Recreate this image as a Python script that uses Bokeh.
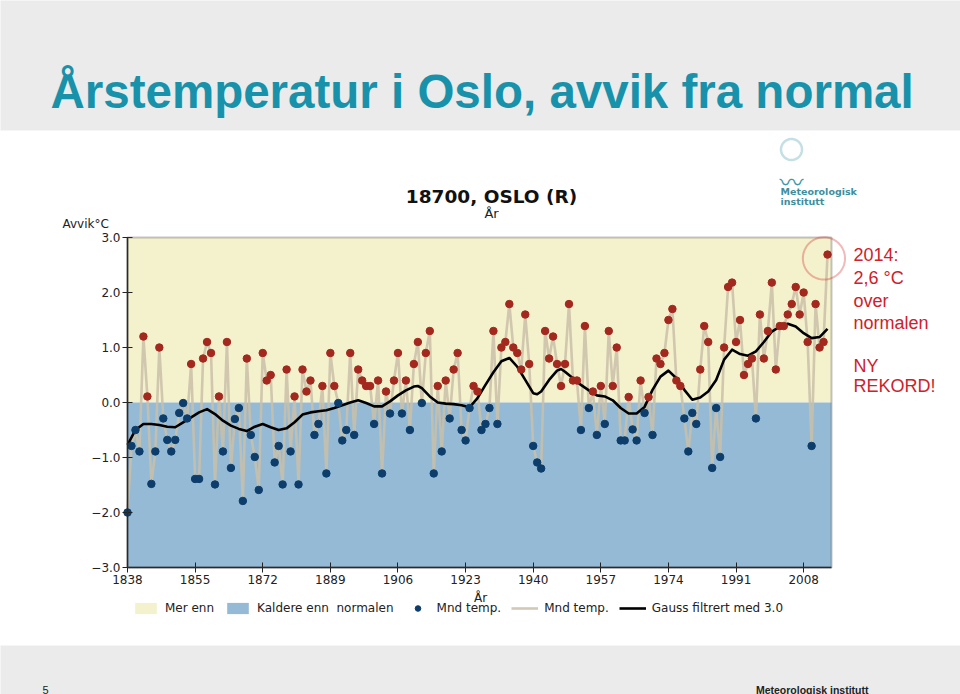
import numpy as np
from bokeh.plotting import figure
from bokeh.models import (Range1d, FixedTicker, Label, Legend, LegendItem,
                          BoxAnnotation, PolyAnnotation)
from bokeh.embed import file_html
from bokeh.resources import INLINE

# ---------------- data ----------------
first_year = 1838
annual_anomaly = [
    -2.0, -0.79, -0.5, -0.89, 1.2, 0.11, -1.48, -0.89, 1.0, -0.29,      # 1838-1847
    -0.68, -0.89, -0.68, -0.19, -0.01, -0.29, 0.7, -1.39, -1.39, 0.8,   # 1848-1857
    1.1, 0.9, -1.49, 0.11, -0.89, 1.1, -1.19, -0.3, -0.1, -1.79,        # 1858-1867
    0.8, -0.59, -0.99, -1.59, 0.9, 0.4, 0.5, -1.09, -0.79, -1.49,       # 1868-1877
    0.6, -0.89, 0.11, -1.49, 0.6, 0.2, 0.4, -0.59, -0.39, 0.3,          # 1878-1887
    -1.29, 0.9, 0.3, -0.01, -0.69, -0.5, 0.9, -0.59, 0.6, 0.4,          # 1888-1897
    0.3, 0.3, -0.39, 0.4, -1.29, 0.2, -0.2, 0.4, 0.9, -0.2,             # 1898-1907
    0.4, -0.5, 0.7, 1.1, -0.01, 0.9, 1.3, -1.29, 0.3, -0.89,            # 1908-1917
    0.4, -0.29, 0.6, 0.9, -0.5, -0.69, -0.1, 0.3, 0.2, -0.5,            # 1918-1927
    -0.39, -0.1, 1.3, -0.39, 1.0, 1.1, 1.79, 1.0, 0.9, 0.6,             # 1928-1937
    1.6, 0.7, -0.79, -1.09, -1.2, 1.3, 0.8, 1.2, 0.7, 0.3,              # 1938-1947
    0.7, 1.79, 0.4, 0.4, -0.5, 1.39, -0.1, 0.2, -0.59, 0.3,             # 1948-1957
    -0.39, 1.3, 0.3, 1.0, -0.69, -0.69, 0.1, -0.49, -0.69, 0.4,         # 1958-1967
    -0.19, 0.1, -0.59, 0.8, 0.7, 0.9, 1.5, 1.7, 0.4, 0.3,               # 1968-1977
    -0.29, -0.89, -0.19, -0.39, 0.6, 1.39, 1.1, -1.19, -0.1, -0.99,     # 1978-1987
    1.0, 2.1, 2.18, 1.1, 1.5, 0.5, 0.7, 0.8, -0.29, 1.6,                # 1988-1997
    0.8, 1.3, 2.18, 0.6, 1.39, 1.39, 1.6, 1.79, 2.1, 1.6,               # 1998-2007
    2.0, 1.1, -0.79, 1.79, 1.0, 1.1, 2.69,                              # 2008-2014
]
years = list(range(first_year, first_year + len(annual_anomaly)))

gauss_years = [1838, 1840, 1842, 1844, 1846, 1848, 1850, 1852, 1854, 1856,
               1858, 1860, 1862, 1864, 1866, 1868, 1870, 1872, 1874, 1876,
               1878, 1880, 1882, 1884, 1886, 1888, 1890, 1892, 1894, 1896,
               1898, 1900, 1902, 1904, 1906, 1908, 1910, 1911, 1912, 1914,
               1916, 1918, 1920, 1922, 1923, 1924, 1926, 1928, 1930, 1932,
               1934, 1936, 1938, 1940, 1941, 1942, 1944, 1946, 1947, 1948,
               1950, 1952, 1954, 1956, 1958, 1960, 1962, 1964, 1966, 1968,
               1970, 1972, 1974, 1976, 1978, 1980, 1982, 1984, 1986, 1988,
               1990, 1992, 1994, 1996, 1998, 2000, 2002, 2004, 2006, 2008,
               2010, 2012, 2014]
gauss_vals = [-0.77, -0.50, -0.39, -0.39, -0.41, -0.44, -0.45, -0.36, -0.27, -0.18,
              -0.12, -0.21, -0.33, -0.42, -0.48, -0.52, -0.44, -0.39, -0.45, -0.50,
              -0.47, -0.36, -0.22, -0.18, -0.16, -0.14, -0.10, -0.05, 0.00, 0.04,
              -0.01, -0.07, -0.07, 0.02, 0.13, 0.22, 0.29, 0.30, 0.26, 0.11,
              0.00, -0.02, -0.03, -0.05, -0.07, -0.09, 0.08, 0.32, 0.55, 0.75,
              0.81, 0.65, 0.41, 0.17, 0.15, 0.20, 0.41, 0.58, 0.61, 0.56,
              0.44, 0.32, 0.22, 0.13, 0.11, 0.04, -0.10, -0.20, -0.20, -0.08,
              0.23, 0.47, 0.58, 0.44, 0.23, 0.05, 0.09, 0.20, 0.41, 0.78,
              0.96, 0.88, 0.85, 0.93, 1.10, 1.29, 1.38, 1.43, 1.38, 1.26,
              1.17, 1.19, 1.34]

x_ticks = [1838, 1855, 1872, 1889, 1906, 1923, 1940, 1957, 1974, 1991, 2008]
y_ticks = [-3, -2, -1, 0, 1, 2, 3]
y_tick_labels = ["\u22123.0", "\u22122.0", "\u22121.0", "0.0", "1.0", "2.0", "3.0"]
x_start, x_end = 1838, 2015
y_min, y_max = -3.0, 3.0

# ---------------- styling / layout ----------------
SLIDE_GRAY = "#ebebeb"
TEAL = "#1892aa"
YELLOW_BG = "#f4f1cd"
BLUE_BG = "#95bad5"
RED_DOT = "#a3281e"
BLUE_DOT = "#0d3d6b"
GRAY_LINE = "#c9bfa8"
ANNOT_RED = "#d0202a"
AX = "#222222"

W, H = 960, 694
# chart box in page pixels (left, top, right, bottom)
BL, BT, BR, BB = 127, 237, 831, 567
ppx = (BR - BL) / (x_end - x_start)
ppy = (BB - BT) / (y_max - y_min)
xr = Range1d(x_start - BL / ppx, x_end + (W - BR) / ppx)
yr = Range1d(y_min - (H - BB) / ppy, y_max + BT / ppy)


def sx(X):   # page x -> screen x
    return X


def sy(Y):   # page y -> screen y (upwards from bottom)
    return H - Y


p = figure(width=W, height=H, x_range=xr, y_range=yr,
           output_backend="svg", toolbar_location=None,
           min_border=0, min_border_left=0, min_border_right=0,
           min_border_top=0, min_border_bottom=0)
p.border_fill_color = "white"
p.background_fill_color = "white"
p.outline_line_color = None
p.xgrid.visible = False
p.ygrid.visible = False

# slide bands
p.add_layout(BoxAnnotation(left=-10, right=W + 10, bottom=sy(130), top=H + 10,
                           left_units="screen", right_units="screen",
                           bottom_units="screen", top_units="screen",
                           fill_color=SLIDE_GRAY, fill_alpha=1, line_alpha=0,
                           level="underlay"))
p.add_layout(BoxAnnotation(left=-10, right=W + 10, bottom=-10, top=sy(645),
                           left_units="screen", right_units="screen",
                           bottom_units="screen", top_units="screen",
                           fill_color=SLIDE_GRAY, fill_alpha=1, line_alpha=0,
                           level="underlay"))

# background zones
warm = p.quad(left=[x_start], right=[x_end], bottom=[0], top=[y_max],
              fill_color=YELLOW_BG, line_color=None)
cold = p.quad(left=[x_start], right=[x_end], bottom=[y_min], top=[0],
              fill_color=BLUE_BG, line_color=None)

# series
gray = p.line(years, annual_anomaly, line_color=GRAY_LINE, line_width=2.6, line_alpha=0.85)
gauss = p.line(gauss_years, gauss_vals, line_color="black", line_width=2.6,
               line_join="round")
pos_x = [y for y, v in zip(years, annual_anomaly) if v >= 0]
pos_v = [v for v in annual_anomaly if v >= 0]
neg_x = [y for y, v in zip(years, annual_anomaly) if v < 0]
neg_v = [v for v in annual_anomaly if v < 0]
red_pts = p.scatter(pos_x, pos_v, size=7.5, fill_color=RED_DOT, line_color=RED_DOT)
blue_pts = p.scatter(neg_x, neg_v, size=7.5, fill_color=BLUE_DOT, line_color=BLUE_DOT)

# chart frame lines
p.add_layout(BoxAnnotation(left=x_start, right=x_end, bottom=y_min, top=y_max,
                           fill_alpha=0, line_color="#404040", line_width=2))

# axes, pinned to the chart box
TICK_FONT = "DejaVu Sans"
for ax in (p.xaxis[0], p.yaxis[0]):
    ax.axis_line_color = AX
    ax.axis_line_width = 1.5
    ax.major_tick_line_color = AX
    ax.major_tick_in = 5
    ax.major_tick_out = 5
    ax.minor_tick_line_color = None
    ax.major_label_text_font = TICK_FONT
    ax.major_label_text_font_size = "12px"
    ax.major_label_text_color = AX
    ax.major_label_standoff = 2
p.xaxis.fixed_location = y_min
p.yaxis.fixed_location = x_start
p.xaxis.bounds = (x_start, x_end)
p.yaxis.bounds = (y_min, y_max)
p.xaxis.ticker = FixedTicker(ticks=x_ticks)
p.yaxis.ticker = FixedTicker(ticks=y_ticks)
p.yaxis.major_label_overrides = {t: s for t, s in zip(y_ticks, y_tick_labels)}

# legend (location = bottom-left corner)
legend = Legend(items=[
    LegendItem(label="Mer enn", renderers=[warm]),
    LegendItem(label="Kaldere enn  normalen", renderers=[cold]),
    LegendItem(label="Mnd temp.", renderers=[blue_pts]),
    LegendItem(label="Mnd temp.", renderers=[gray]),
    LegendItem(label="Gauss filtrert med 3.0", renderers=[gauss]),
], orientation="horizontal", location=(sx(132), sy(615)))
legend.glyph_width = 27
legend.glyph_height = 14
legend.label_standoff = 6
legend.spacing = 10
legend.padding = 0
legend.margin = 0
legend.border_line_alpha = 0
legend.background_fill_alpha = 0
legend.label_text_font = TICK_FONT
legend.label_text_font_size = "12px"
legend.label_text_color = AX
legend.label_height = 14
p.add_layout(legend)


def lab(text, X, Y, size, color="black", font="Liberation Sans", style="normal",
        align="left"):
    p.add_layout(Label(x=sx(X), y=sy(Y), x_units="screen", y_units="screen",
                       text=text, text_font=font, text_font_size=size,
                       text_font_style=style, text_color=color,
                       text_align=align, text_baseline="alphabetic"))


# slide title
lab("Årstemperatur i Oslo, avvik fra normal", 50, 91, "47.5px", TEAL,
    "Liberation Sans", "bold")
# chart titles
lab("18700, OSLO (R)", 491, 196, "18.5px", "#111111", TICK_FONT, "bold", "center")
lab("År", 491, 213, "13px", AX, TICK_FONT, "normal", "center")
lab("Avvik°C", 62, 223, "12px", AX, TICK_FONT)
lab("År", 480, 597, "12px", AX, TICK_FONT, "normal", "center")
# annotation
for txt, yy in [("2014:", 254), ("2,6 °C", 277), ("over", 300), ("normalen", 322),
                ("NY", 365), ("REKORD!", 385)]:
    lab(txt, 853, yy, "18px", ANNOT_RED, "Liberation Sans")
# logo
t = np.linspace(0, 2 * np.pi, 60)
p.add_layout(PolyAnnotation(xs=list(sx(791) + 10.5 * np.cos(t)),
                            ys=list(sy(149) + 10.5 * np.sin(t)),
                            xs_units="screen", ys_units="screen",
                            fill_alpha=0, line_color="#3f98a8", line_width=2.5))
lab("\u3030", 791, 180, "24px", "#3f98a8", "Noto Sans CJK JP", "normal", "center")
lab("Meteorologisk", 780, 191, "9.5px", "#3d8fa0", "DejaVu Sans", "bold")
lab("institutt", 780, 201, "9.5px", "#3d8fa0", "DejaVu Sans", "bold")
# red circle round the 2014 value
last_x, last_v = years[-1], annual_anomaly[-1]
p.add_layout(PolyAnnotation(xs=list(last_x - 0.9 + 5.3 * np.cos(t)),
                            ys=list(last_v - 0.07 + 0.385 * np.sin(t)),
                            fill_alpha=0, line_color="#d01818", line_width=2))
# footer
lab("5", 42, 689, "11px", "#222222", "Liberation Sans")
lab("Meteorologisk institutt", 868, 689, "10.5px", "#222222",
    "Liberation Sans", "bold", "right")

open("out.html", "w").write(file_html(p, INLINE))
